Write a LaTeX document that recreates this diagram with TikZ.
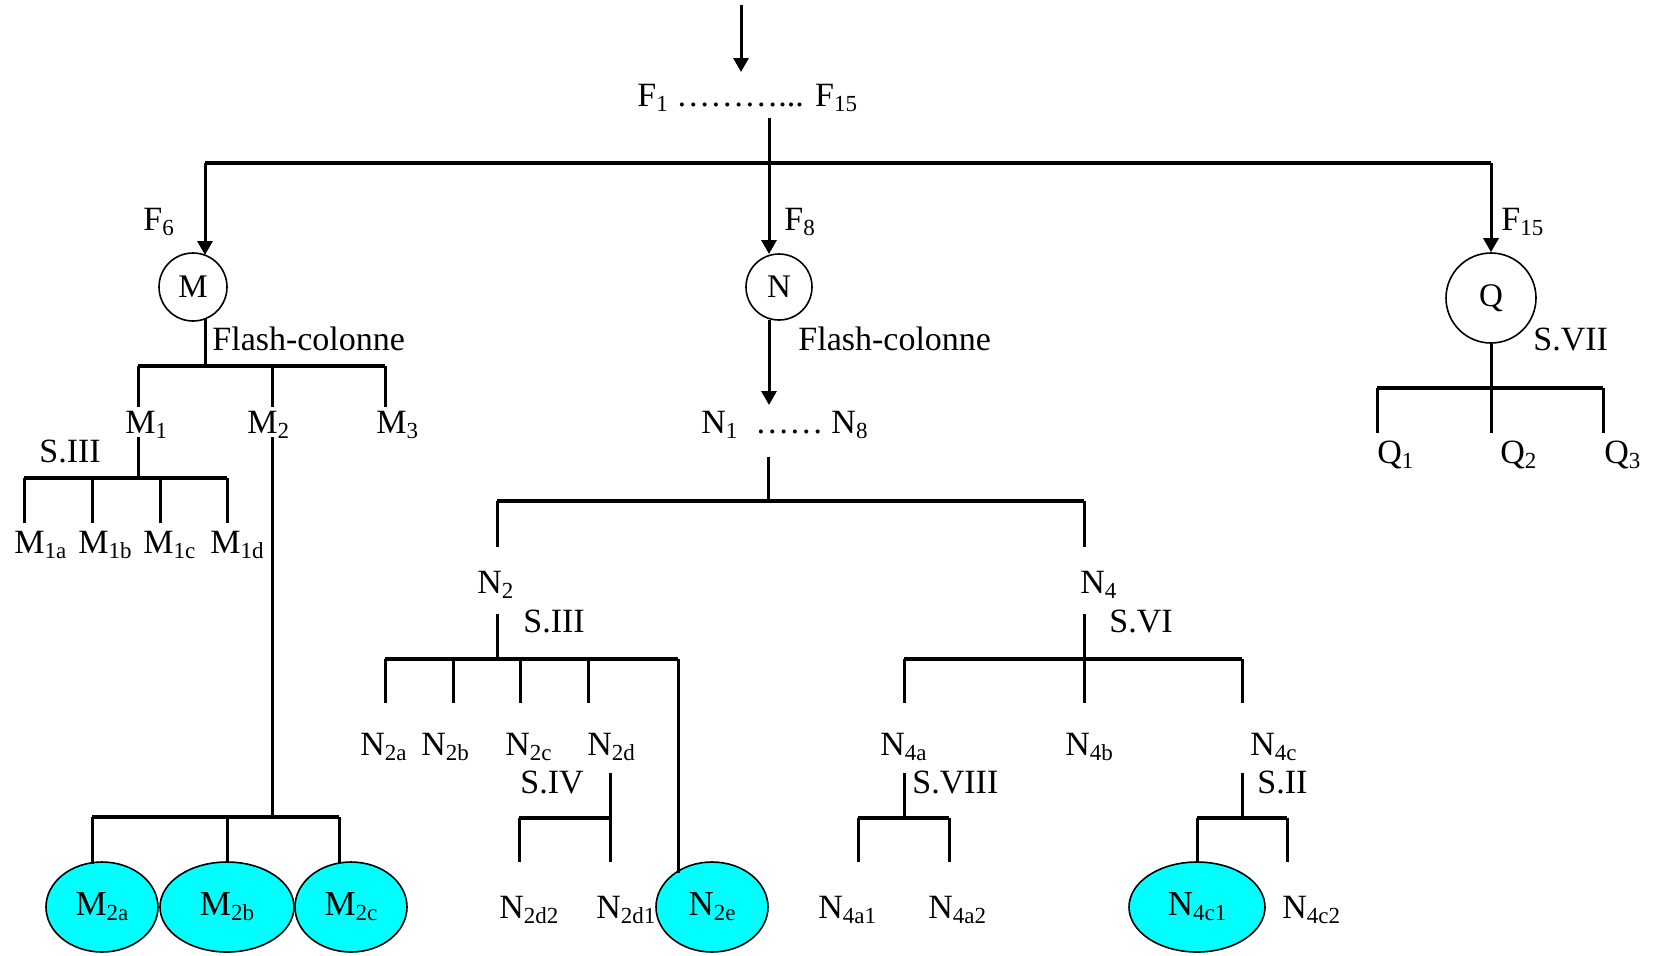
\documentclass[tikz,border=0pt]{standalone}
\usepackage{fontspec}
\setmainfont{Liberation Serif}
\usetikzlibrary{arrows.meta,shapes.geometric}
\definecolor{aqua}{RGB}{0,255,255}
\newcommand{\sbx}[1]{\raisebox{-2.5pt}{\fontsize{11.5}{13}\selectfont #1}}
\tikzset{
  lbl/.style={inner sep=0pt, anchor=base west, font=\fontsize{17}{20}\selectfont},
  ln/.style={line width=1.5pt},
  barln/.style={line width=1.75pt},
  arr/.style={line width=1.5pt, -{Triangle[length=7pt,width=7.5pt]}},
  circ/.style={circle, draw, line width=0.8pt, inner sep=0pt, font=\fontsize{16.5}{18}\selectfont},
  ell/.style={ellipse, draw, fill=aqua, line width=0.8pt, inner sep=0pt, minimum height=45pt, font=\fontsize{17.5}{20}\selectfont},
}
\begin{document}
\begin{tikzpicture}[x=0.5pt,y=-0.5pt]
\useasboundingbox (0,0) rectangle (1655,955);
% ---------- top ----------
\coordinate (in) at (741,5);
\coordinate (inE) at (741,72);
\node[lbl] (F) at (637,106) {F\sbx{1} ………... F\sbx{15}};
\coordinate (Fs) at (769,118);
\coordinate (bL) at (205,163);
\coordinate (bC) at (769,163);
\coordinate (bR) at (1491,163);
\draw[arr] (in) -- (inE);
\draw[barln] (bL) -- (bR);
\draw[ln] (Fs) -- (bC);
\node[lbl] (F6) at (143,230) {F\sbx{6}};
\node[lbl] (F8) at (784,230) {F\sbx{8}};
\node[lbl] (F15) at (1501,230) {F\sbx{15}};
% circles
\node[circ, minimum size=34pt] (M) at (193,287) {M};
\node[circ, minimum size=33pt] (N) at (779,287) {N};
\node[circ, minimum size=45pt] (Q) at (1491,298) {Q};
\coordinate (Mt) at (205,255);
\coordinate (Nt) at (769,254);
\draw[arr] (bL) -- (Mt);
\draw[arr] (bC) -- (Nt);
\draw[arr] (bR) -- (Q.north);
% ---------- M branch ----------
\coordinate (Mb) at (205,319);
\coordinate (Mj) at (205,366);
\node[lbl] (FCm) at (212,350) {Flash-colonne};
\draw[ln] (Mb) -- (Mj);
\coordinate (m1t) at (138,366);
\coordinate (m2t) at (272,366);
\coordinate (m3t) at (385,366);
\draw[barln] (m1t) -- (m3t);
\node[lbl] (M1) at (125,433) {M\sbx{1}};
\node[lbl] (M2) at (247,433) {M\sbx{2}};
\node[lbl] (M3) at (376,433) {M\sbx{3}};
\coordinate (m1a) at (138,407);
\coordinate (m2a) at (272,407);
\coordinate (m3a) at (385,407);
\draw[ln] (m1t) -- (m1a);
\draw[ln] (m2t) -- (m2a);
\draw[ln] (m3t) -- (m3a);
% M1 split
\node[lbl] (S3m) at (39,462) {S.III};
\coordinate (m1b) at (138,437);
\coordinate (m1j) at (138,478);
\draw[ln] (m1b) -- (m1j);
\coordinate (ma1) at (24,478);
\coordinate (ma2) at (92,478);
\coordinate (ma3) at (160,478);
\coordinate (ma4) at (227,478);
\draw[barln] (ma1) -- (ma4);
\coordinate (ma1e) at (24,523);
\coordinate (ma2e) at (92,523);
\coordinate (ma3e) at (160,523);
\coordinate (ma4e) at (227,523);
\draw[ln] (ma1) -- (ma1e);
\draw[ln] (ma2) -- (ma2e);
\draw[ln] (ma3) -- (ma3e);
\draw[ln] (ma4) -- (ma4e);
\node[lbl] (M1a) at (14,553) {M\sbx{1a}};
\node[lbl] (M1b) at (78,553) {M\sbx{1b}};
\node[lbl] (M1c) at (143,553) {M\sbx{1c}};
\node[lbl] (M1d) at (210,553) {M\sbx{1d}};
% M2 split
\coordinate (m2b) at (272,437);
\coordinate (m2j) at (272,817);
\draw[ln] (m2b) -- (m2j);
\coordinate (mb1) at (92,817);
\coordinate (mb2) at (227,817);
\coordinate (mb3) at (339,817);
\draw[barln] (mb1) -- (mb3);
\node[ell, minimum width=56pt] (M2a) at (102,907) {M\sbx{2a}};
\node[ell, minimum width=67pt] (M2b) at (227,907) {M\sbx{2b}};
\node[ell, minimum width=56pt] (M2c) at (351,907) {M\sbx{2c}};
\coordinate (mb1e) at (92,864);
\coordinate (mb3e) at (339,864);
\draw[ln] (mb1) -- (mb1e);
\draw[ln] (mb2) -- (M2b.north);
\draw[ln] (mb3) -- (mb3e);
% ---------- N branch ----------
\node[lbl] (FCn) at (798,350) {Flash-colonne};
\coordinate (Nb) at (769,320);
\coordinate (Ne) at (769,405);
\draw[arr] (Nb) -- (Ne);
\node[lbl] (N18) at (701,433) {N\sbx{1}\hspace{9pt}……\hspace{4pt}N\sbx{8}};
\coordinate (ns) at (768,457);
\coordinate (nj) at (768,501);
\draw[ln] (ns) -- (nj);
\coordinate (n2t) at (497,501);
\coordinate (n4t) at (1084,501);
\draw[barln] (n2t) -- (n4t);
\coordinate (n2e) at (497,547);
\coordinate (n4e) at (1084,547);
\draw[ln] (n2t) -- (n2e);
\draw[ln] (n4t) -- (n4e);
\node[lbl] (N2) at (477,593) {N\sbx{2}};
\node[lbl] (N4) at (1080,593) {N\sbx{4}};
% N2 split
\node[lbl] (S3n) at (523,632) {S.III};
\coordinate (n2s) at (497,614);
\coordinate (n2j) at (497,659);
\draw[ln] (n2s) -- (n2j);
\coordinate (na1) at (385,659);
\coordinate (na2) at (453,659);
\coordinate (na3) at (520,659);
\coordinate (na4) at (588,659);
\coordinate (na5) at (678,659);
\draw[barln] (na1) -- (na5);
\coordinate (na1e) at (385,703);
\coordinate (na2e) at (453,703);
\coordinate (na3e) at (520,703);
\coordinate (na4e) at (588,703);
\coordinate (na5e) at (678,873);
\draw[ln] (na1) -- (na1e);
\draw[ln] (na2) -- (na2e);
\draw[ln] (na3) -- (na3e);
\draw[ln] (na4) -- (na4e);
\node[lbl] (N2a) at (360,755) {N\sbx{2a}};
\node[lbl] (N2b) at (421,755) {N\sbx{2b}};
\node[lbl] (N2c) at (505,755) {N\sbx{2c}};
\node[lbl] (N2d) at (587,755) {N\sbx{2d}};
% N2d split
\node[lbl] (S4) at (520,793) {S.IV};
\coordinate (ndt) at (610,773);
\coordinate (ndj) at (610,818);
\coordinate (ndl) at (519,818);
\coordinate (nd1e) at (610,862);
\coordinate (nd2e) at (519,862);
\draw[ln] (ndt) -- (nd1e);
\draw[barln] (ndl) -- (ndj);
\draw[ln] (ndl) -- (nd2e);
\node[lbl] (N2d2) at (499,918) {N\sbx{2d2}};
\node[lbl] (N2d1) at (596,918) {N\sbx{2d1}};
\node[ell, minimum width=56pt] (N2e) at (712,907) {N\sbx{2e}};
\draw[ln] (na5) -- (na5e);
% N4 split
\node[lbl] (S6) at (1109,632) {S.VI};
\coordinate (n4s) at (1084,614);
\coordinate (n4j) at (1084,659);
\coordinate (n4m) at (1084,703);
\draw[ln] (n4s) -- (n4m);
\coordinate (nb1) at (904,659);
\coordinate (nb3) at (1242,659);
\draw[barln] (nb1) -- (nb3);
\coordinate (nb1e) at (904,703);
\coordinate (nb3e) at (1242,703);
\draw[ln] (nb1) -- (nb1e);
\draw[ln] (nb3) -- (nb3e);
\node[lbl] (N4a) at (880,755) {N\sbx{4a}};
\node[lbl] (N4b) at (1065,755) {N\sbx{4b}};
\node[lbl] (N4c) at (1250,755) {N\sbx{4c}};
% N4a split
\node[lbl] (S8) at (912,793) {S.VIII};
\coordinate (n4as) at (904,773);
\coordinate (n4aj) at (904,818);
\draw[ln] (n4as) -- (n4aj);
\coordinate (nc1) at (858,818);
\coordinate (nc2) at (949,818);
\draw[barln] (nc1) -- (nc2);
\coordinate (nc1e) at (858,862);
\coordinate (nc2e) at (949,862);
\draw[ln] (nc1) -- (nc1e);
\draw[ln] (nc2) -- (nc2e);
\node[lbl] (N4a1) at (818,918) {N\sbx{4a1}};
\node[lbl] (N4a2) at (928,918) {N\sbx{4a2}};
% N4c split
\node[lbl] (S2) at (1257,793) {S.II};
\coordinate (n4cs) at (1242,773);
\coordinate (n4cj) at (1242,818);
\draw[ln] (n4cs) -- (n4cj);
\coordinate (nd1) at (1197,818);
\coordinate (nd2) at (1287,818);
\draw[barln] (nd1) -- (nd2);
\node[ell, minimum width=68pt] (N4c1) at (1197,907) {N\sbx{4c1}};
\coordinate (nd2e) at (1287,862);
\draw[ln] (nd1) -- (N4c1.north);
\draw[ln] (nd2) -- (nd2e);
\node[lbl] (N4c2) at (1282,918) {N\sbx{4c2}};
% ---------- Q branch ----------
\node[lbl] (S7) at (1533,350) {S.VII};
\coordinate (qj) at (1491,388);
\draw[ln] (Q.south) -- (qj);
\coordinate (q1) at (1377,388);
\coordinate (q3) at (1603,388);
\draw[barln] (q1) -- (q3);
\coordinate (q1e) at (1377,433);
\coordinate (q2e) at (1491,433);
\coordinate (q3e) at (1603,433);
\draw[ln] (q1) -- (q1e);
\draw[ln] (qj) -- (q2e);
\draw[ln] (q3) -- (q3e);
\node[lbl] (Q1) at (1377,463) {Q\sbx{1}};
\node[lbl] (Q2) at (1500,463) {Q\sbx{2}};
\node[lbl] (Q3) at (1604,463) {Q\sbx{3}};
\end{tikzpicture}
\end{document}
